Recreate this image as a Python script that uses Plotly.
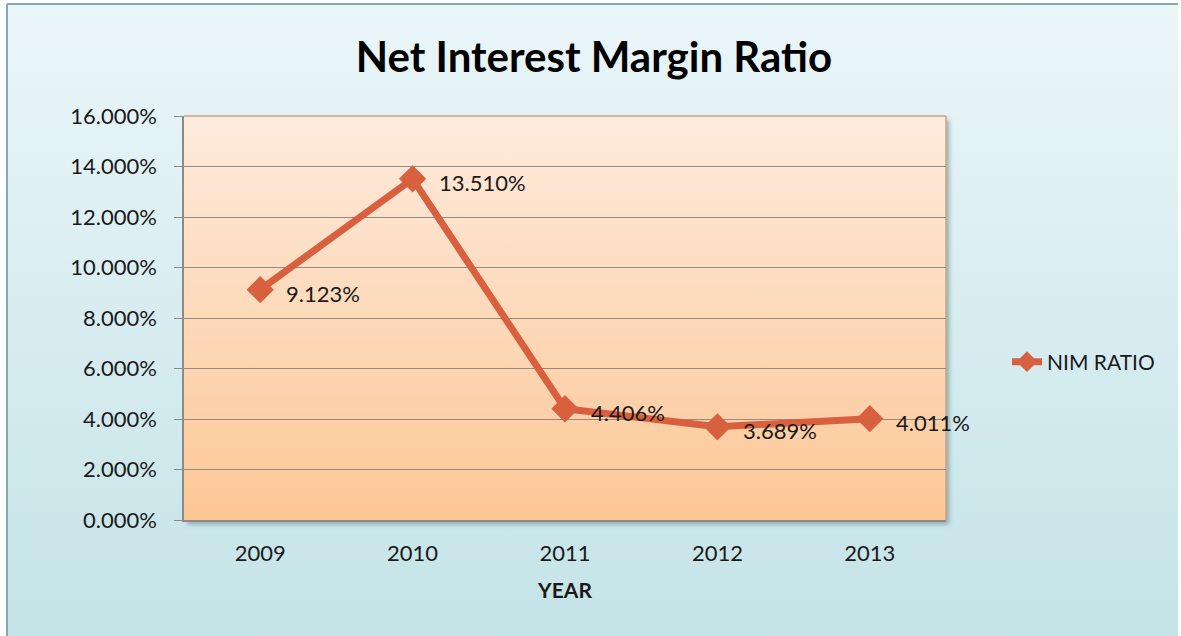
import base64
import plotly.graph_objects as go

# NIM ratio by year (percent)
years = ["2009", "2010", "2011", "2012", "2013"]
nim_ratio = [9.123, 13.510, 4.406, 3.689, 4.011]
y_ticks = [0, 2, 4, 6, 8, 10, 12, 14, 16]
y_tick_text = [f"{v:.3f}%" for v in y_ticks]
data_labels = [f"{v:.3f}%" for v in nim_ratio]

W, H = 1181, 636
L, R, T, B = 184, 235, 116, 116
PW, PH = W - L - R, H - T - B

LINE_COLOR = "#D8603F"
TEXT_COLOR = "#1a1a1a"
FONT = "Lato"


def svg_uri(svg):
    return "data:image/svg+xml;base64," + base64.b64encode(svg.encode()).decode()


def vgradient(top, bottom, w=100, h=100):
    return svg_uri(
        f'<svg xmlns="http://www.w3.org/2000/svg" width="{w}" height="{h}" '
        f'viewBox="0 0 {w} {h}" preserveAspectRatio="none">'
        f'<defs><linearGradient id="g" x1="0" y1="0" x2="0" y2="1">'
        f'<stop offset="0" stop-color="{top}"/><stop offset="1" stop-color="{bottom}"/>'
        f'</linearGradient></defs><rect width="{w}" height="{h}" fill="url(#g)"/></svg>'
    )


def px_x(px):
    return (px - L) / PW


def px_y(py):
    return (H - B - py) / PH


# chart box (starts slightly inside the page, extends past the right/bottom edges)
box_x0, box_y0, box_x1, box_y1 = 7, 4, 1178, 646

# soft drop shadow behind the plotting area
pad = 14
shadow_svg = svg_uri(
    f'<svg xmlns="http://www.w3.org/2000/svg" width="{PW + 2 * pad}" height="{PH + 2 * pad}" '
    f'viewBox="0 0 {PW + 2 * pad} {PH + 2 * pad}">'
    f'<defs><filter id="f" x="-10%" y="-10%" width="120%" height="120%">'
    f'<feGaussianBlur stdDeviation="2.5"/></filter></defs>'
    f'<rect x="{pad + 3}" y="{pad + 4}" width="{PW}" height="{PH}" fill="#5a6e72" '
    f'fill-opacity="0.55" filter="url(#f)"/></svg>'
)

images = [
    dict(source=vgradient("#EBF6F9", "#C4E3E7"), xref="paper", yref="paper",
         x=px_x(box_x0), y=px_y(box_y0), sizex=(box_x1 - box_x0) / PW,
         sizey=(box_y1 - box_y0) / PH, sizing="stretch", xanchor="left",
         yanchor="top", layer="below"),
    dict(source=shadow_svg, xref="paper", yref="paper",
         x=-pad / PW, y=1 + pad / PH, sizex=(PW + 2 * pad) / PW,
         sizey=(PH + 2 * pad) / PH, sizing="stretch", xanchor="left",
         yanchor="top", layer="below"),
    dict(source=vgradient("#FEEBDD", "#FCC795"), xref="paper", yref="paper",
         x=0, y=1, sizex=1, sizey=1, sizing="stretch", xanchor="left",
         yanchor="top", layer="below"),
]

shapes = [
    # chart box frame (top and left edges)
    dict(type="line", xref="paper", yref="paper", x0=px_x(box_x0), x1=px_x(box_x1),
         y0=px_y(box_y0), y1=px_y(box_y0), line=dict(color="#86AAAB", width=2), layer="below"),
    dict(type="line", xref="paper", yref="paper", x0=px_x(box_x0), x1=px_x(box_x0),
         y0=px_y(box_y0), y1=px_y(box_y1), line=dict(color="#86AAAB", width=2), layer="below"),
    # plotting-area border (top and right)
    dict(type="line", xref="paper", yref="paper", x0=0, x1=1, y0=1, y1=1,
         line=dict(color="#C4A987", width=1.5), layer="below"),
    dict(type="line", xref="paper", yref="paper", x0=1, x1=1, y0=0, y1=1,
         line=dict(color="#C4A987", width=1.5), layer="below"),
]

fig = go.Figure()
fig.add_trace(go.Scatter(
    x=years, y=nim_ratio, name="NIM RATIO",
    mode="lines+markers",
    line=dict(color=LINE_COLOR, width=7),
    marker=dict(symbol="diamond", size=21, color=LINE_COLOR),
    cliponaxis=False,
))

# value labels to the right of each point (category positions by index)
annotations = [
    dict(x=i, y=v, xref="x", yref="y", text=lbl, showarrow=False,
         xanchor="left", yanchor="middle", xshift=24, yshift=-4,
         font=dict(family=FONT, size=22, color=TEXT_COLOR))
    for i, (v, lbl) in enumerate(zip(nim_ratio, data_labels))
]

fig.update_layout(
    width=W, height=H,
    margin=dict(l=L, r=R, t=T, b=B),
    paper_bgcolor="white",
    plot_bgcolor="rgba(0,0,0,0)",
    images=images,
    shapes=shapes,
    annotations=annotations,
    title=dict(text="<b>Net Interest Margin Ratio</b>", x=594 / W, xanchor="center",
               y=1 - 57 / H, yanchor="middle", yref="container",
               font=dict(family=FONT, size=42, color="#000000")),
    font=dict(family=FONT, color=TEXT_COLOR),
    showlegend=True,
    legend=dict(x=px_x(1007), y=px_y(362), xanchor="left", yanchor="middle",
                bgcolor="rgba(0,0,0,0)", font=dict(family=FONT, size=21, color=TEXT_COLOR)),
    xaxis=dict(
        type="category", range=[-0.5, 4.5], showgrid=False,
        showline=True, linecolor="#8E8A86", linewidth=1.5,
        ticks="", tickfont=dict(family=FONT, size=22, color=TEXT_COLOR),
        ticklabelstandoff=13,
        title=dict(text="<b>YEAR</b>", standoff=18,
                   font=dict(family=FONT, size=21, color=TEXT_COLOR)),
    ),
    yaxis=dict(
        range=[0, 16], tickvals=y_ticks, ticktext=y_tick_text,
        showgrid=True, gridcolor="#948B84", gridwidth=1,
        showline=True, linecolor="#8E8A86", linewidth=1.5,
        ticks="outside", ticklen=8, tickcolor="#8E8A86",
        tickfont=dict(family=FONT, size=22, color=TEXT_COLOR),
        ticklabelstandoff=13, zeroline=False,
    ),
)

fig.write_html("out.html")
